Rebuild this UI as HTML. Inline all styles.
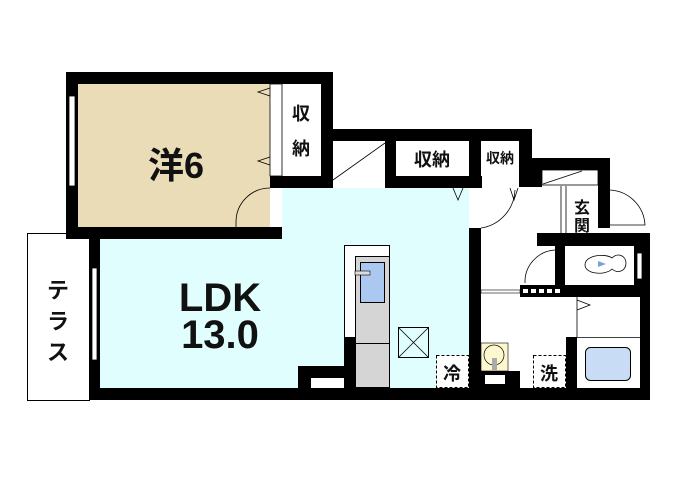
<!DOCTYPE html>
<html><head><meta charset="utf-8"><style>
html,body{margin:0;padding:0;background:#fff;width:688px;height:484px;overflow:hidden}
svg{display:block}
text{font-family:"Liberation Sans","Noto Sans CJK JP",sans-serif;font-weight:bold;fill:#111}
</style></head><body>
<svg width="688" height="484" viewBox="0 0 688 484">
<!-- fills -->
<rect x="78" y="84" width="192" height="143" fill="#ebdcb8"/>
<path d="M282 188 H469 V388 H100 V239 H282 Z" fill="#e0fefe"/>
<rect x="270" y="188" width="12" height="45" fill="#fff"/>
<!-- terrace -->
<rect x="27.5" y="233.5" width="62" height="167" fill="#fff" stroke="#000"/>
<text x="58" y="298" font-size="22" font-weight="normal" text-anchor="middle">テ</text>
<text x="58" y="329" font-size="22" font-weight="normal" text-anchor="middle">ラ</text>
<text x="58" y="360" font-size="22" font-weight="normal" text-anchor="middle">ス</text>
<!-- walls -->
<g fill="#000">
<rect x="66" y="72" width="267" height="12"/>
<rect x="66" y="72" width="12" height="167"/>
<rect x="66" y="227" width="216" height="12"/>
<rect x="321" y="72" width="12" height="116"/>
<rect x="270" y="176" width="63" height="12"/>
<rect x="320" y="129" width="212" height="12"/>
<rect x="320" y="129" width="13" height="59"/>
<rect x="385" y="141" width="11" height="47"/>
<rect x="385" y="176" width="97" height="12"/>
<rect x="469" y="141" width="12" height="47"/>
<rect x="469" y="228" width="12" height="172"/>
<rect x="519" y="129" width="13" height="58"/>
<rect x="519" y="170" width="23" height="17"/>
<rect x="532" y="158" width="78" height="12"/>
<rect x="598" y="158" width="12" height="70"/>
<rect x="537" y="233" width="113" height="13"/>
<rect x="555" y="246" width="10" height="39"/>
<rect x="634" y="233" width="16" height="64"/>
<rect x="520" y="285" width="130" height="12"/>
<rect x="640" y="285" width="10" height="115"/>
<rect x="566" y="337" width="11" height="51"/>
<rect x="89" y="239" width="11" height="161"/>
<rect x="89" y="388" width="561" height="12"/>
<rect x="298" y="366" width="57" height="22"/>
<rect x="344" y="337" width="11" height="51"/>
<rect x="481" y="371" width="39" height="17"/>
</g>
<!-- window whites -->
<rect x="69" y="96" width="6" height="90" fill="#fff" stroke="#000" stroke-width="0.8"/>
<rect x="92" y="268" width="5" height="92" fill="#fff" stroke="#000" stroke-width="0.8"/>
<rect x="637" y="253" width="5" height="26" fill="#fff" stroke="#000" stroke-width="0.8"/>
<rect x="311" y="378" width="33" height="10" fill="#fff"/>
<rect x="485" y="375" width="20" height="9" fill="#fff"/>
<g fill="#fff"><rect x="523" y="289" width="5" height="4"/><rect x="531" y="289" width="5" height="4"/><rect x="539" y="289" width="5" height="4"/><rect x="547" y="289" width="5" height="4"/><rect x="555" y="289" width="5" height="4"/></g>
<rect x="481" y="290" width="39" height="3" fill="#fff" stroke="#000" stroke-width="0.6"/>
<!-- closets -->
<rect x="282" y="84" width="39" height="92" fill="#fff"/>
<rect x="270" y="84" width="12" height="92" fill="#fff" stroke="#000" stroke-width="0.8"/>
<text x="301" y="120" font-size="18" text-anchor="middle">収</text>
<text x="301" y="155" font-size="18" text-anchor="middle">納</text>
<rect x="333" y="141" width="52" height="40" fill="#fff"/>
<line x1="333" y1="180" x2="385" y2="143" stroke="#000" stroke-width="0.8"/>
<rect x="396" y="141" width="73" height="35" fill="#fff"/>
<text x="432" y="166" font-size="18" text-anchor="middle">収納</text>
<rect x="481" y="141" width="38" height="35" fill="#fff"/>
<text x="500" y="163" font-size="14" text-anchor="middle">収納</text>
<rect x="542" y="170" width="56" height="15" fill="#fff" stroke="#000" stroke-width="0.8"/>
<line x1="543" y1="184" x2="582" y2="171" stroke="#000" stroke-width="0.8"/>
<text x="582" y="213" font-size="16" text-anchor="middle">玄</text>
<text x="582" y="231" font-size="16" text-anchor="middle">関</text>
<line x1="561" y1="186" x2="561" y2="233" stroke="#000" stroke-width="0.8"/>
<line x1="566" y1="186" x2="566" y2="233" stroke="#000" stroke-width="0.8"/>
<!-- doors -->
<g fill="none" stroke="#000" stroke-width="0.8">
<path d="M270 188 A34 34 0 0 0 236 222 L236 227"/>
<path d="M481 228 A40 40 0 0 0 515 190"/>
<path d="M610 190 A37 37 0 0 1 645 225 L610 225"/>
<path d="M555 250 A32 32 0 0 0 525 283"/>
<polyline points="270,88 258,92 270,96"/><polyline points="270,157 258,161 270,165"/>
<polyline points="453,188 458,200 463,188"/><polyline points="510,188 514,200 518,188"/>
<polyline points="577,300 590,305 577,310"/>
<line x1="577" y1="297" x2="577" y2="337"/>
<line x1="577" y1="337.5" x2="640" y2="337.5"/>
</g>
<!-- toilet -->
<path d="M585 265 C585 255 605 253 612 258 C618 252 626 256 626 263 C626 271 618 274 612 269 C605 276 585 274 585 265 Z" fill="#fff" stroke="#000" stroke-width="0.8"/>
<path d="M598 261 L606 264 L598 267 Z" fill="#7aa0d8"/>
<!-- kitchen -->
<rect x="344.5" y="245.5" width="45" height="92" fill="#fff" stroke="#000"/>
<rect x="355.5" y="256.5" width="34" height="131" fill="#d5d5d5" stroke="#000"/>
<line x1="355" y1="343.5" x2="390" y2="343.5" stroke="#000"/>
<rect x="360.5" y="262.5" width="24" height="40" fill="#aac8f0" stroke="#000"/>
<rect x="355" y="271" width="15" height="4" fill="#ddd" stroke="#000" stroke-width="0.6"/>
<rect x="398.5" y="327.5" width="30" height="30" fill="none" stroke="#000"/>
<path d="M399 328 L428 357 M428 328 L399 357" stroke="#000" stroke-width="0.8"/>
<rect x="436.5" y="355.5" width="32" height="32" fill="#fff" stroke="#000" stroke-dasharray="3,2"/>
<text x="452" y="380" font-size="18" text-anchor="middle">冷</text>
<rect x="533.5" y="355.5" width="32" height="32" fill="#fff" stroke="#000" stroke-dasharray="3,2"/>
<text x="549" y="380" font-size="18" text-anchor="middle">洗</text>
<!-- wash basin -->
<rect x="481" y="343" width="27" height="28" fill="#fdf8d0" stroke="#000" stroke-width="0.6"/>
<circle cx="494" cy="355" r="10" fill="none" stroke="#000" stroke-width="0.7"/>
<rect x="492" y="358" width="5" height="12" fill="#aaa"/>
<!-- bath -->
<rect x="585.5" y="347.5" width="45" height="33" rx="5" fill="#c8dcf5" stroke="#000"/>
<!-- room labels -->
<text x="176" y="178" font-size="36" text-anchor="middle">洋6</text>
<text x="220" y="311" font-size="40" text-anchor="middle">LDK</text>
<text x="220" y="348" font-size="40" text-anchor="middle">13.0</text>
</svg>
</body></html>
